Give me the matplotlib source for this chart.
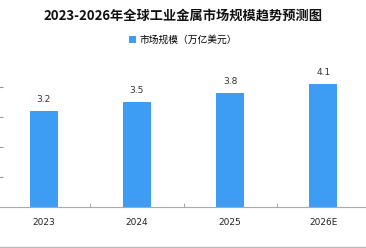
import matplotlib.pyplot as plt
from matplotlib.lines import Line2D

plt.rcParams['font.family'] = ['Noto Sans CJK SC', 'DejaVu Sans']

years = ["2023", "2024", "2025", "2026E"]
market = [3.2, 3.5, 3.8, 4.1]

W, H = 366, 248
fig = plt.figure(figsize=(W / 100, H / 100), dpi=100)
ax = fig.add_axes([-3 / W, (H - 206.7) / H, 373 / W, 150 / H])

bar_color = "#3d9df5"
x = list(range(len(years)))
ax.bar(x, market, width=0.3, color=bar_color, label="市场规模（万亿美元）", zorder=2)
for xi, v in zip(x, market):
    ax.text(xi, v + 0.22, f"{v:.1f}", ha="center", va="bottom", fontsize=6.5,
            color="#333333", family=["DejaVu Sans"])

ax.set_xlim(-0.5, len(years) - 0.5)
ax.set_ylim(0, 5)
ax.set_xticks(x)
ax.set_xticklabels(years, fontsize=6.5, color="#222222", family=["DejaVu Sans"])
ax.set_xticks([0.5, 1.5, 2.5], minor=True)
ax.tick_params(axis="x", which="major", length=0, pad=8)
ax.tick_params(axis="x", which="minor", direction="in", length=3, color="#999999")
ax.set_yticks([1, 2, 3, 4])
ax.tick_params(axis="y", direction="in", length=4, color="#999999", labelleft=False)
for s in ["top", "right"]:
    ax.spines[s].set_visible(False)
ax.spines["bottom"].set_color("#aaaaaa")
ax.spines["left"].set_color("#eeeeee")

fig.text(0.5, 1 - 16 / H, "2023-2026年全球工业金属市场规模趋势预测图", ha="center", va="center",
         fontsize=9.5, fontweight="bold", color="#111111")
fig.legend(loc="center", bbox_to_anchor=(0.5, 1 - 40 / H), frameon=False, fontsize=7,
           handlelength=0.7, handleheight=0.7, handletextpad=0.4)

fig.add_artist(Line2D([0, 1], [1 / H, 1 / H], color="#bbbbbb", lw=1, transform=fig.transFigure))

fig.savefig("out.png", dpi=100)
